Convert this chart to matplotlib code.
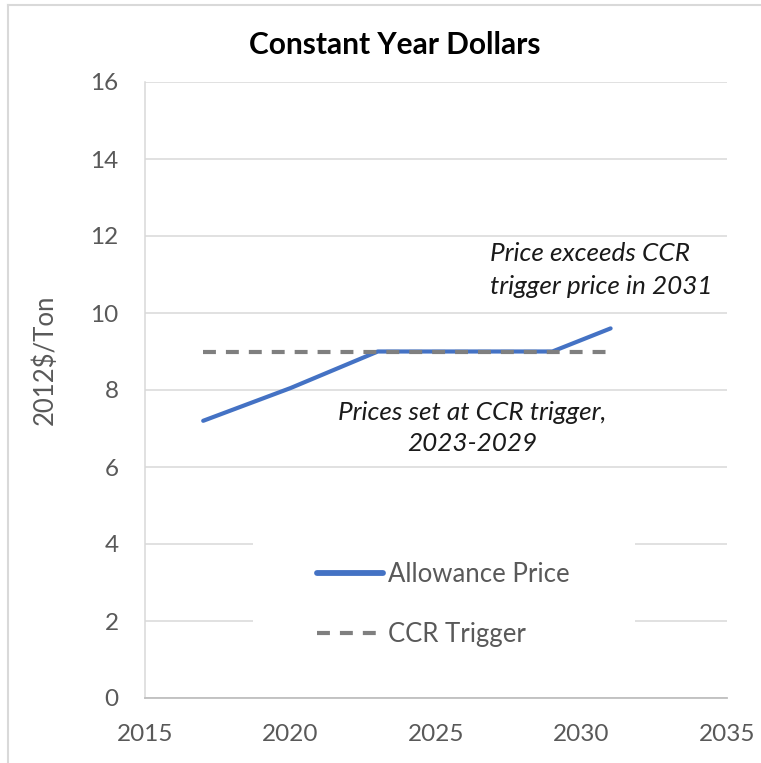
import matplotlib
matplotlib.use("Agg")
import matplotlib.pyplot as plt
from matplotlib.lines import Line2D
from matplotlib.patches import Rectangle

plt.rcParams["font.family"] = ["Lato", "DejaVu Sans"]

# data
years = [2017, 2020, 2023, 2029, 2031]
allowance_price = [7.2, 8.05, 9.0, 9.0, 9.6]
trigger_years = [2017, 2031]
ccr_trigger = [9.0, 9.0]
x_ticks = [2015, 2020, 2025, 2030, 2035]
y_ticks = [0, 2, 4, 6, 8, 10, 12, 14, 16]

BLUE = "#4472C4"
GRAY = "#7F7F7F"
TICK = "#595959"
GRID = "#D9D9D9"

fig = plt.figure(figsize=(7.61, 7.63), dpi=100)
fig.patch.set_facecolor("white")
ax = fig.add_axes([145 / 761, 1 - 698 / 763, 582 / 761, 616 / 763])

ax.set_xlim(2015, 2035)
ax.set_ylim(0, 16)
ax.set_xticks(x_ticks)
ax.set_yticks(y_ticks)
ax.tick_params(length=0, labelsize=17.5, colors=TICK, pad=19)
ax.grid(axis="y", color=GRID, lw=1.1)
ax.set_axisbelow(True)
for s in ("top", "right"):
    ax.spines[s].set_visible(False)
ax.spines["left"].set_color(GRID)
ax.spines["bottom"].set_color("#BFBFBF")
ax.spines["left"].set_linewidth(1.1)
ax.spines["bottom"].set_linewidth(1.3)

# white legend box hides the gridlines
ax.add_patch(Rectangle((0.1856, 0.054), 0.656, 0.235, transform=ax.transAxes,
                       facecolor="white", edgecolor="none", zorder=1))

ax.plot(years, allowance_price, color=BLUE, lw=3.0, solid_capstyle="round", zorder=3)
ax.plot(trigger_years, ccr_trigger, color=GRAY, lw=3.0, dashes=(3.1, 2.4), zorder=4)

handles = [Line2D([], [], color=BLUE, lw=4.2, solid_capstyle="round"),
           Line2D([], [], color=GRAY, lw=3.0, dashes=(3.1, 2.4))]
leg = fig.legend(handles, ["Allowance Price", "CCR Trigger"], loc="center left",
                 bbox_to_anchor=(317 / 761, 1 - 604.5 / 763), frameon=False, fontsize=18.5,
                 handlelength=2.55, handletextpad=0.22, labelspacing=1.4, borderpad=0,
                 borderaxespad=0)
for t in leg.get_texts():
    t.set_color(TICK)

ax.text(2026.86, 11.12, "Price exceeds CCR\ntrigger price in 2031", ha="left", va="center",
        fontsize=18.8, style="italic", color="#1a1a1a", linespacing=1.5)
ax.text(2026.24, 7.01, "Prices set at CCR trigger,\n2023-2029", ha="center", va="center",
        fontsize=18.8, style="italic", color="#1a1a1a", linespacing=1.4)

fig.text(395 / 761, 1 - 45 / 763, "Constant Year Dollars", ha="center", va="center",
         fontsize=21.5, fontweight="bold", color="black")
fig.text(45 / 761, 1 - 360 / 763, "2012$/Ton", rotation=90, ha="center", va="center",
         fontsize=18.5, color=TICK)

# chart border
fig.add_artist(Line2D([8 / 761, 1], [1 - 5 / 763] * 2, color="#D9D9D9", lw=1.5,
                      transform=fig.transFigure))
fig.add_artist(Line2D([8 / 761] * 2, [0, 1 - 5 / 763], color="#D9D9D9", lw=1.5,
                      transform=fig.transFigure))

fig.savefig("out.png", dpi=100, facecolor="white")
